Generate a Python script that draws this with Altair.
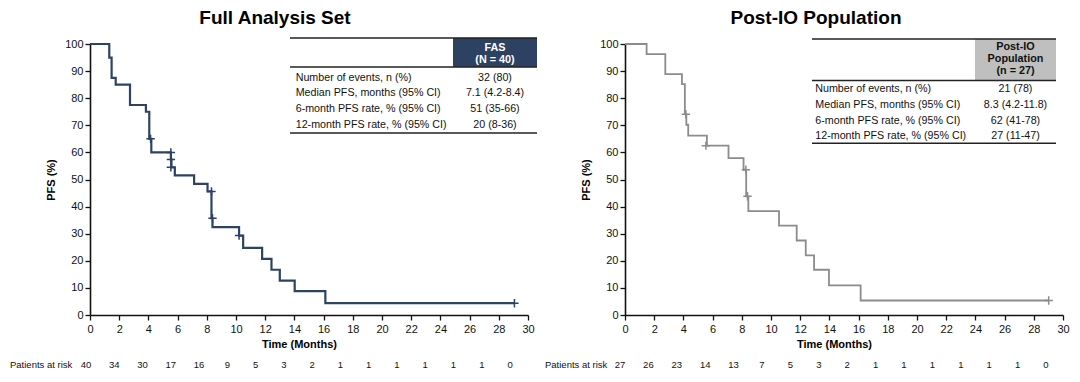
import altair as alt
import pandas as pd

# ---------------- data ----------------
months_ticks = list(range(0, 31, 2))
pct_ticks = list(range(0, 101, 10))

fas_time = [0, 1.32, 1.48, 1.76, 2.74, 3.83, 4.06, 4.2, 5.54, 5.58, 5.81, 7.13, 8.05, 8.32, 8.39,
            10.21, 10.49, 11.79, 12.43, 13.0, 14.02, 16.12, 29.07]
fas_surv = [100, 95, 87.5, 85, 77.5, 75, 65, 60, 57.4, 54.5, 51.5, 48.4, 45.6, 35.7, 32.4,
            29.3, 24.8, 20.7, 16.7, 12.7, 8.8, 4.35, 4.35]
fas_cens_time = [4.15, 5.54, 5.54, 5.54, 8.32, 8.39, 10.21, 29.07]
fas_cens_surv = [65, 60, 57.4, 54.5, 45.6, 35.7, 29.3, 4.35]

io_time = [0, 1.48, 2.76, 3.9, 4.1, 4.2, 4.33, 5.61, 7.09, 8.12, 8.3, 8.45, 10.55, 11.76,
           12.38, 12.95, 13.97, 16.14, 29.02]
io_surv = [100, 96.3, 88.9, 85.2, 74.1, 70.2, 66.2, 62.5, 57.9, 53.6, 43.8, 38.3, 33.0, 27.5,
           22.0, 16.7, 10.9, 5.35, 5.35]
io_cens_time = [4.17, 5.54, 8.28, 8.39, 29.02]
io_cens_surv = [74.1, 62.5, 53.6, 43.8, 5.35]

risk_times = list(range(0, 31, 2))
fas_risk = [40, 34, 30, 17, 16, 9, 5, 3, 2, 1, 1, 1, 1, 1, 1, 0]
io_risk = [27, 26, 23, 14, 13, 7, 5, 3, 2, 1, 1, 1, 1, 1, 1, 0]

table_rows = ["Number of events, n (%)", "Median PFS, months (95% CI)",
              "6-month PFS rate, % (95% CI)", "12-month PFS rate, % (95% CI)"]
fas_values = ["32 (80)", "7.1 (4.2-8.4)", "51 (35-66)", "20 (8-36)"]
io_values = ["21 (78)", "8.3 (4.2-11.8)", "62 (41-78)", "27 (11-47)"]
fas_header = ["FAS", "(N = 40)"]
io_header = ["Post-IO", "Population", "(n = 27)"]

FONT = "Liberation Sans"
W, H = 438, 271


def one():
    return pd.DataFrame({"a": [0]})


def panel(time, surv, ctime, csurv, risk, risk_domain, color, lw, title, title_x,
          header, header_fill, header_color, values, g):
    xs = alt.Scale(domain=[0, 30], nice=False, zero=False)
    ys = alt.Scale(domain=[0, 100], nice=False)
    y_axis = alt.Axis(values=pct_ticks, title="PFS (%)", titlePadding=8,
                      labelFlush=False, labelOverlap=False, labelPadding=2)

    curve = alt.Chart(pd.DataFrame({"t": time, "s": surv})).mark_line(
        interpolate="step-after", color=color, strokeWidth=lw
    ).encode(
        x=alt.X("t:Q", scale=xs, axis=alt.Axis(
            values=months_ticks, title="Time (Months)", titleX=209, titlePadding=4,
            labelFlush=False, labelOverlap=False, labelPadding=3)),
        y=alt.Y("s:Q", scale=ys, axis=y_axis),
    )
    cens = alt.Chart(pd.DataFrame({"t": ctime, "s": csurv})).mark_point(
        shape="M-1,0L1,0M0,-1L0,1", filled=False, stroke=color, strokeWidth=1.5,
        size=70, opacity=1
    ).encode(
        x=alt.X("t:Q", scale=xs, axis=None),
        y=alt.Y("s:Q", scale=ys, axis=y_axis),
    )
    risk_df = pd.DataFrame({"rt": risk_times, "n": [str(v) for v in risk]})
    risk_txt = alt.Chart(risk_df).mark_text(
        font=FONT, fontSize=9.5, color="#111", baseline="middle", align="center"
    ).encode(
        x=alt.X("rt:Q", scale=alt.Scale(domain=risk_domain, nice=False, zero=False), axis=None),
        y=alt.value(321),
        text="n:N",
    )
    risk_lab = alt.Chart(one()).mark_text(
        text="Patients at risk", font=FONT, fontSize=9.5, color="#111",
        baseline="middle", align="left"
    ).encode(x=alt.value(-80), y=alt.value(321))

    ttl = alt.Chart(one()).mark_text(
        text=title, font=FONT, fontSize=19, fontWeight="bold", color="#000",
        baseline="alphabetic", align="center"
    ).encode(x=alt.value(title_x), y=alt.value(-20.5))

    layers = [curve, cens, risk_txt, risk_lab, ttl]

    # table
    layers.append(alt.Chart(one()).mark_rect(color=header_fill).encode(
        x=alt.value(g["hx0"]), x2=alt.value(g["x1"]),
        y=alt.value(g["top"]), y2=alt.value(g["hbot"])))
    for yy, sw in [(g["top"], 1.5), (g["hbot"], 1.5), (g["bot"], 1.5)]:
        layers.append(alt.Chart(one()).mark_rule(color="#222", strokeWidth=sw).encode(
            x=alt.value(g["x0"]), x2=alt.value(g["x1"]), y=alt.value(yy)))
    hx = (g["hx0"] + g["x1"]) / 2
    for line, yy in zip(header, g["hys"]):
        layers.append(alt.Chart(one()).mark_text(
            text=line, font=FONT, fontSize=10.8, fontWeight="bold", color=header_color,
            baseline="middle", align="center").encode(x=alt.value(hx), y=alt.value(yy)))
    for lab, val, yy in zip(table_rows, values, g["rys"]):
        layers.append(alt.Chart(one()).mark_text(
            text=lab, font=FONT, fontSize=10.7, color="#111",
            baseline="middle", align="left").encode(x=alt.value(g["lx"]), y=alt.value(yy)))
        layers.append(alt.Chart(one()).mark_text(
            text=val, font=FONT, fontSize=10.7, color="#111",
            baseline="middle", align="center").encode(x=alt.value(hx), y=alt.value(yy)))

    return alt.layer(*layers).resolve_scale(x="independent").properties(width=W, height=H)


g_fas = dict(x0=200, x1=447, hx0=363, top=-6, hbot=23, bot=89,
             hys=[3.7, 15.5], rys=[33.7, 49.3, 65, 81], lx=205.7)
g_io = dict(x0=187, x1=431, hx0=350, top=-5, hbot=36.5, bot=99.3,
            hys=[3, 15.3, 27.3], rys=[45.3, 61, 76.7, 92], lx=190.3)

left = panel(fas_time, fas_surv, fas_cens_time, fas_cens_surv, fas_risk, [0.283, 31.27],
             "#2e4364", 2.2, "Full Analysis Set", 185,
             fas_header, "#2d4162", "#ffffff", fas_values, g_fas)
right = panel(io_time, io_surv, io_cens_time, io_cens_surv, io_risk, [0.352, 31.197],
              "#8c8c8c", 1.8, "Post-IO Population", 191,
              io_header, "#bfbfbf", "#111111", io_values, g_io)

chart = alt.hconcat(left, right, spacing=7).properties(
    padding={"left": 2, "top": 0, "right": 0, "bottom": 0}
).configure_view(stroke=None).configure_axis(
    domainColor="#111", domainWidth=1.6, tickColor="#111", tickWidth=1.3, tickSize=5,
    labelFont=FONT, labelFontSize=11, labelColor="#111",
    titleFont=FONT, titleFontSize=11, titleFontWeight="bold", titleColor="#000",
    grid=False,
)

chart.save("out.html", embed_options={"renderer": "svg", "actions": False})
